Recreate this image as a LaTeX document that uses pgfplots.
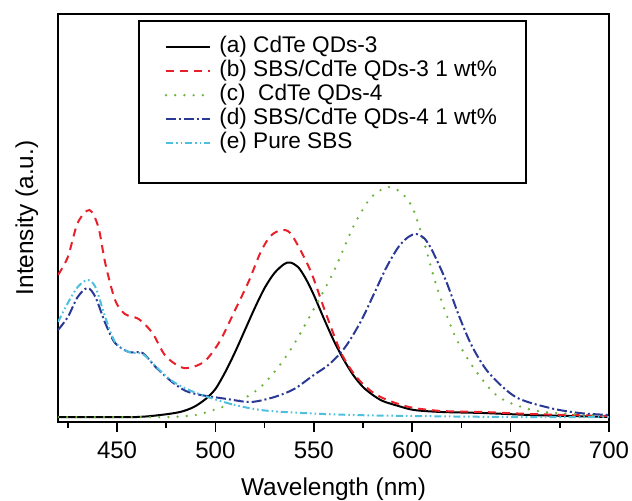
\documentclass[border=0pt]{standalone}
\usepackage{pgfplots}
\pgfplotsset{compat=1.18}
\usepackage{fontspec}
\setmainfont{Liberation Sans}

\definecolor{cred}{RGB}{232,32,42}
\definecolor{cgreen}{RGB}{108,180,62}
\definecolor{cblue}{RGB}{42,56,150}
\definecolor{ccyan}{RGB}{78,192,222}

\begin{document}
\begin{tikzpicture}
\begin{axis}[
    scale only axis,
    width=275.5pt, height=204pt,
    xmin=420, xmax=700, ymin=0, ymax=408,
    xtick={450,500,...,700},
    minor xtick={425,475,...,675},
    ytick=\empty,
    tick align=outside, xtick pos=bottom,
    major tick length=5pt, minor tick length=3pt,
    every tick/.style={black, line width=0.8pt},
    axis line style={line width=1pt},
    /pgf/number format/assume math mode=true,
    tick label style={font=\fontsize{12}{14}\selectfont},
    xticklabel style={yshift=-1.5pt},
    xlabel={Wavelength (nm)}, ylabel={Intensity (a.u.)},
    label style={font=\fontsize{12.2}{14}\selectfont},
    x label style={at={(axis description cs:0.5,-0.181)}, anchor=base},
    y label style={at={(axis description cs:-0.045,0.5)}, anchor=base},
    legend cell align=left,
    legend image code/.code={\draw[#1] (0pt,0pt) -- (22pt,0pt);},
    legend style={draw=none, fill=none, at={(axis description cs:0.193,0.949)},
        anchor=north west, font=\fontsize{11.3}{12}\selectfont,
        inner sep=0pt, column sep=4pt, row sep=0pt,
        nodes={inner sep=0pt, text height=8.5pt, text depth=3.5pt}},
    every axis plot/.append style={line width=1pt, smooth},
]
\draw[line width=0.8pt, fill=white] (axis description cs:0.147,0.983) rectangle (axis description cs:0.849,0.586);

% (a) CdTe QDs-3
\addplot[black] coordinates {
(420,5) (440,5) (460,5) (472,7) (482,10) (489,15) (495,23) (500,33) (505,50)
(510,70) (515,92) (520,114) (525,134) (530,149) (535,158) (538,159.5) (542,155)
(546,143) (550,127) (555,104) (560,82) (565,63) (570,47) (575,35) (580,27)
(585,21) (593,16) (601,12) (615,10) (636,9) (660,7) (680,6) (700,5)};
% (b) SBS/CdTe QDs-3 1 wt%
\addplot[cred, dash pattern=on 4pt off 3pt] coordinates {
(420,147) (425,165) (430,199) (436,212) (440.5,195) (444,159) (449,122) (454,108)
(461,103) (468,89) (474.7,66) (484,54) (494,60) (502,80) (510,112) (517,141) (523,170)
(528,186) (533.5,192) (538,189) (543.7,170) (549,148) (555.5,112) (563,73)
(568,55) (573,42) (579,31) (585,24) (593,18) (601,14) (615,11) (636,10)
(660,8) (680,7) (700,6)};
% (c) CdTe QDs-4
\addplot[cgreen, line width=1.3pt, line cap=round, dash pattern=on 0pt off 4.6pt] coordinates {
(420,5) (460,5) (477,5) (490,7) (499,12) (513,22) (523,35) (532,55) (540,78)
(550,113) (560,150) (570,195) (578,222) (584,232) (588,235) (594,230) (600,215)
(606,180) (613,132) (622,85) (632,52) (644,25) (661,12) (680,8) (700,6)};
% (d) SBS/CdTe QDs-4 1 wt%
\addplot[cblue, dash pattern=on 5pt off 1.5pt on 1pt off 1.5pt] coordinates {
(420,92) (425,105) (430,125) (435,134) (439,125) (444,99) (449,79) (456,70)
(463,69) (469.6,55) (478,40) (485,31) (492.6,27) (506,23) (518,20) (530,25)
(540,33) (550,47) (558,58) (566,75) (574,101) (581,130) (587,155) (593,175)
(598,185) (602,188) (606,184) (610,172) (617,142) (624,105) (630.6,75) (639,49)
(652.6,25) (670,14) (685,9) (700,7)};
% (e) Pure SBS
\addplot[ccyan, dash pattern=on 3.5pt off 1.5pt on 0.8pt off 1.5pt on 0.8pt off 1.5pt] coordinates {
(420,100) (425,119) (430,135) (435,142) (439,135) (444,105) (449,80) (456,70)
(463,68) (470,55) (478,41) (489,30) (506,19) (523,12) (544,9) (570,7)
(600,6) (650,5) (700,5)};

\legend{(a) CdTe QDs-3, (b) SBS/CdTe QDs-3 1 wt\%, (c)\ \ CdTe QDs-4,
        (d) SBS/CdTe QDs-4 1 wt\%, (e) Pure SBS}
\coordinate (sw) at (rel axis cs:0,0);
\coordinate (ne) at (rel axis cs:1,1);
\end{axis}
\pgfresetboundingbox
\path[use as bounding box] ([shift={(-29pt,-39pt)}]sw) rectangle ([shift={(11.5pt,7pt)}]ne);
\end{tikzpicture}
\end{document}
